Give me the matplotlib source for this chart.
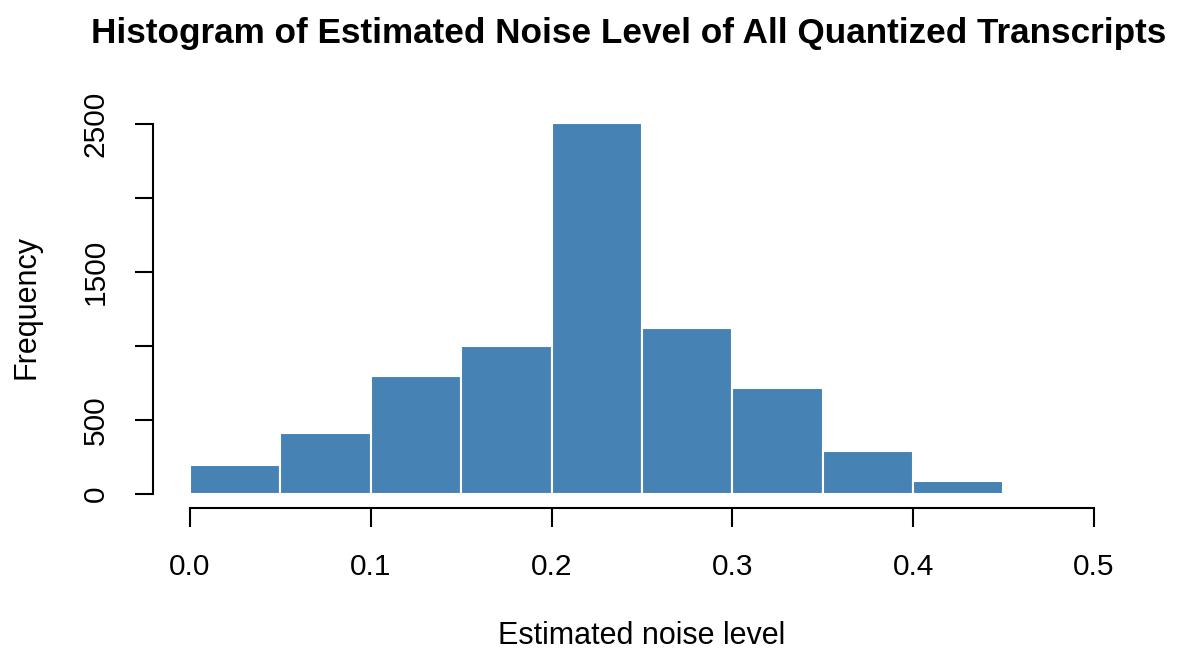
import numpy as np
import matplotlib.pyplot as plt

# bin edges and counts
breaks = [0.0, 0.05, 0.1, 0.15, 0.2, 0.25, 0.3, 0.35, 0.4, 0.45]
counts = [194, 414, 797, 1000, 2507, 1124, 718, 290, 88]
x_ticks = [0.0, 0.1, 0.2, 0.3, 0.4, 0.5]
y_ticks = [0, 500, 1000, 1500, 2000, 2500]
y_labels = ['0', '500', '', '1500', '', '2500']

plt.rcParams['font.family'] = ['Liberation Sans', 'DejaVu Sans']

W, H = 1201, 652
fig = plt.figure(figsize=(W / 100, H / 100), dpi=100)
# axes box in pixels: left spine at 153, x-axis line at 508
left_px, right_px, top_px, bot_px = 153, 1130, 109.2, 508.0
ax = fig.add_axes([left_px / W, 1 - bot_px / H,
                   (right_px - left_px) / W, (bot_px - top_px) / H])

lefts = np.array(breaks[:-1])
widths = np.diff(breaks)
ax.bar(lefts, counts, width=widths, align='edge', color='#4682B4',
       edgecolor='white', linewidth=1.5)

ax.set_xlim(-0.0205, 0.52)
ax.set_ylim(-95, 2600)

# R-style detached axes
for side in ['top', 'right']:
    ax.spines[side].set_visible(False)
ax.spines['bottom'].set_bounds(0, 0.5)
ax.spines['left'].set_bounds(0, 2500)
ax.spines['bottom'].set_linewidth(1.5)
ax.spines['left'].set_linewidth(1.5)

ax.set_xticks(x_ticks)
ax.set_xticklabels(['0.0', '0.1', '0.2', '0.3', '0.4', '0.5'])
ax.set_yticks(y_ticks)
ax.set_yticklabels(y_labels, rotation=90, va='center')
ax.tick_params(axis='x', length=13.5, width=1.5, pad=19, labelsize=21.5)
ax.tick_params(axis='y', length=13, width=1.5, pad=18, labelsize=21.5)

fig.text(642 / W, 1 - 636 / H, 'Estimated noise level',
         ha='center', va='center', fontsize=22)
fig.text(27 / W, 1 - 307 / H, 'Frequency', rotation=90,
         ha='center', va='center', fontsize=22)
fig.text(629 / W, 1 - 33 / H, 'Histogram of Estimated Noise Level of All Quantized Transcripts',
         ha='center', va='center', fontsize=25.3, fontweight='bold')

fig.savefig('out.png', dpi=100)
